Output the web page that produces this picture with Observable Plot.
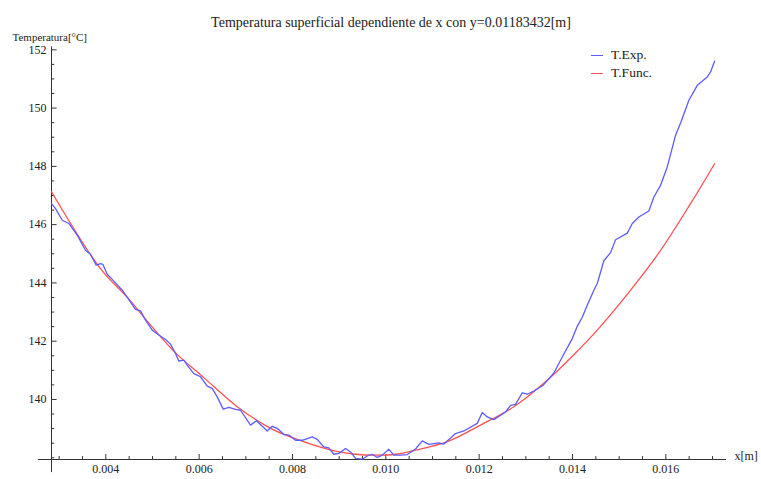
<!DOCTYPE html>
<html>
<head>
<meta charset="utf-8">
<script src="https://cdn.jsdelivr.net/npm/d3@7"></script>
<script src="https://cdn.jsdelivr.net/npm/@observablehq/plot@0.6"></script>
<style>
  body { margin: 0; background: #fff; }
  #wrap { position: relative; width: 761px; height: 479px; font-family: "Liberation Serif", "DejaVu Serif", serif; }
  #wrap svg, #wrap svg text { font-family: "Liberation Serif", "DejaVu Serif", serif !important; }
  .leg { position: absolute; left: 591px; font-size: 13.5px; color: #222; display: flex; align-items: center; height: 16px; }
  .leg span.sw { display: inline-block; width: 12px; height: 0; border-top: 1.6px solid; margin-right: 8px; }
</style>
</head>
<body>
<div id="wrap"></div>
<script>
// ---- data ----
const expX = [0.002836,0.002922,0.003066,0.003207,0.003387,0.003565,0.003672,0.003794,0.003886,0.003936,
  0.00403,0.004137,0.004351,0.004493,0.004636,0.004744,0.004851,0.004994,0.005136,0.005279,
  0.005387,0.005494,0.005564,0.005672,0.005744,0.005886,0.006029,0.006173,0.00628,0.006387,
  0.006516,0.006636,0.00678,0.006887,0.007101,0.00723,0.007459,0.007566,0.007673,0.007815,
  0.007922,0.008065,0.008209,0.008423,0.00853,0.008672,0.008779,0.008886,0.008993,0.009137,
  0.009244,0.009351,0.009495,0.009602,0.009709,0.009816,0.009923,0.010065,0.010172,0.010315,
  0.010459,0.010637,0.01078,0.010922,0.011136,0.011243,0.011494,0.011672,0.011959,0.012066,
  0.012173,0.012315,0.012566,0.012673,0.01278,0.012923,0.013031,0.013172,0.013374,0.013601,
  0.013781,0.013995,0.014102,0.014209,0.014316,0.014458,0.014531,0.014672,0.014816,0.014923,
  0.015174,0.015281,0.015422,0.015636,0.015744,0.015887,0.016031,0.016209,0.016316,0.016494,
  0.016674,0.016888,0.016959,0.017045];
const expT = [146.72,146.55,146.15,146.04,145.64,145.12,144.98,144.61,144.66,144.64,
  144.30,144.12,143.75,143.43,143.09,143.04,142.72,142.38,142.21,142.06,
  141.90,141.58,141.32,141.35,141.18,140.89,140.78,140.46,140.38,140.09,
  139.67,139.73,139.66,139.63,139.12,139.27,138.92,139.08,139.01,138.80,
  138.78,138.60,138.60,138.72,138.63,138.37,138.34,138.12,138.15,138.32,
  138.20,137.98,137.95,138.06,138.12,138.01,138.09,138.29,138.09,138.09,
  138.11,138.30,138.58,138.46,138.51,138.47,138.83,138.92,139.18,139.55,
  139.40,139.31,139.57,139.80,139.83,140.23,140.18,140.29,140.49,140.91,
  141.46,142.09,142.51,142.82,143.23,143.75,143.98,144.76,145.04,145.48,
  145.71,146.04,146.26,146.47,146.95,147.35,147.98,149.07,149.49,150.27,
  150.78,151.07,151.24,151.61];
const funcX = [0.002836,0.003886,0.004486,0.00496,0.005494,0.0061,0.006816,0.00753,0.008172,0.008922,
  0.009351,0.00978,0.010208,0.010637,0.011316,0.01203,0.012743,0.013459,0.014136,0.014531,
  0.0151,0.015816,0.01653,0.017045];
const funcT = [147.13,144.49,143.46,142.55,141.60,140.75,139.75,139.01,138.59,138.23,
  138.12,138.09,138.12,138.26,138.55,139.12,139.75,140.66,141.71,142.38,
  143.46,144.95,146.72,148.09];
const xMajor = [0.004,0.006,0.008,0.010,0.012,0.014,0.016];
const xMinor = [0.003,0.0035,0.0045,0.005,0.0055,0.0065,0.007,0.0075,0.0085,0.009,0.0095,0.0105,0.011,0.0115,0.0125,0.013,0.0135,0.0145,0.015,0.0155,0.0165,0.017];
const yMajor = [140,142,144,146,148,150,152];
const yMinor = [138,138.5,139,139.5,140.5,141,141.5,142.5,143,143.5,144.5,145,145.5,146.5,147,147.5,148.5,149,149.5,150.5,151,151.5];
const seriesNames = ["T.Exp.", "T.Func."];
const seriesColors = ["#5c5cff", "#ff5050"];
const titleText = "Temperatura superficial dependiente de x con y=0.01183432[m]";
const yLabel = "Temperatura[°C]";
const xLabel = "x[m]";

const xDom = [0.002836, 0.0173];
const yDom = [137.94, 152.1];

const exp = expX.map((x, i) => ({x, t: expT[i]}));
const func = funcX.map((x, i) => ({x, t: funcT[i]}));

const axisColor = "#333";
const font = '"Liberation Serif", "DejaVu Serif", serif';

const chart = Plot.plot({
  width: 761,
  height: 479,
  marginLeft: 51,
  marginRight: 35,
  marginTop: 46.4,
  marginBottom: 20,
  style: {fontFamily: font, fontSize: "12px", color: "#222", background: "#fff", overflow: "visible"},
  x: {domain: xDom, axis: null},
  y: {domain: yDom, axis: null},
  marks: [
    // axis lines
    Plot.ruleY([yDom[0]], {x1: xDom[0] - 0.00028, x2: xDom[1], stroke: axisColor}),
    Plot.ruleX([xDom[0]], {y1: yDom[0] - 0.45, y2: yDom[1], stroke: axisColor}),
    // ticks (pointing into the plot)
    Plot.ruleX(xMajor, {y1: yDom[0], y2: yDom[0] + 0.17, stroke: axisColor}),
    Plot.ruleX(xMinor, {y1: yDom[0], y2: yDom[0] + 0.1, stroke: axisColor}),
    Plot.ruleY(yMajor, {x1: xDom[0], x2: xDom[0] + 0.00012, stroke: axisColor}),
    Plot.ruleY(yMinor, {x1: xDom[0], x2: xDom[0] + 0.00007, stroke: axisColor}),
    // tick labels
    Plot.axisX({ticks: xMajor, tickSize: 0, tickPadding: 5, tickFormat: d3.format(".3f"), label: null, fontSize: 12, fontFamily: font}),
    Plot.axisY({ticks: yMajor, tickSize: 0, tickPadding: 5, tickFormat: d3.format("d"), label: null, fontSize: 12, fontFamily: font}),
    // series
    Plot.line(func, {x: "x", y: "t", stroke: seriesColors[1], strokeWidth: 1.3, curve: "catmull-rom"}),
    Plot.line(exp, {x: "x", y: "t", stroke: seriesColors[0], strokeWidth: 1.3}),
    // texts
    Plot.text([titleText], {frameAnchor: "top", dy: -30, dx: 2, fontSize: 14, fill: "#222", fontFamily: font}),
    Plot.text([yLabel], {frameAnchor: "top-left", dx: -39, dy: -13.5, textAnchor: "start", fontSize: 11, fill: "#222", fontFamily: font}),
    Plot.text([xLabel], {frameAnchor: "bottom-right", dx: 8, dy: 0, textAnchor: "start", fontSize: 12, fill: "#222", fontFamily: font})
  ]
});

const wrap = document.getElementById("wrap");
wrap.appendChild(chart);
seriesNames.forEach((name, i) => {
  const d = document.createElement("div");
  d.className = "leg";
  d.style.top = (47 + i * 18) + "px";
  d.innerHTML = `<span class="sw" style="border-color:${seriesColors[i]}"></span>${name}`;
  wrap.appendChild(d);
});
</script>
</body>
</html>
